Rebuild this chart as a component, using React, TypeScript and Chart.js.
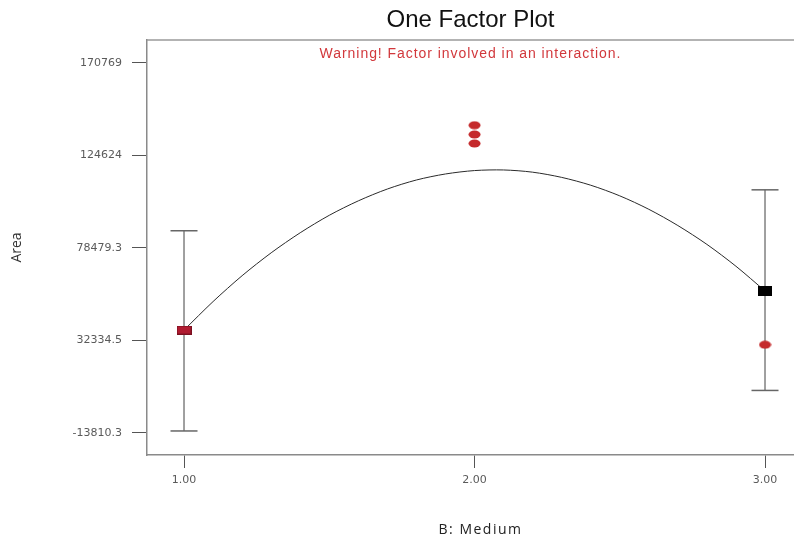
import React, { useEffect, useRef } from "react";
import { Chart, registerables } from "chart.js";

Chart.register(...registerables);

// ---- data ----
const factorLevels = [1, 2, 3];
const xTickLabels = ["1.00", "2.00", "3.00"];
const yTickValues = [-13810.3, 32334.5, 78479.3, 124624, 170769];
const yTickLabels = ["-13810.3", "32334.5", "78479.3", "124624", "170769"];

const curveX = [1.0, 1.1, 1.2, 1.3, 1.4, 1.5, 1.6, 1.7, 1.8, 1.9, 2.0, 2.1, 2.2, 2.3, 2.4, 2.5, 2.6, 2.7, 2.8, 2.9, 3.0];
const curveY = [37500, 51700, 64600, 76000, 86000, 94700, 101900, 107800, 112300, 115300, 117000, 117300, 116200, 113600, 109700, 104400, 97700, 89600, 80200, 69300, 57000];

const errorBarLevels = [1, 3];
const errorBarLow = [-12800, 7400];
const errorBarHigh = [87000, 107400];

const predictedLevels = [3];
const predictedValues = [57000];

const designSquareLevels = [1];
const designSquareValues = [37500];

const designPointLevels = [2, 2, 2, 3];
const designPointValues = [139600, 135000, 130500, 30200];

const titleText = "One Factor Plot";
const warningText = "Warning! Factor involved in an interaction.";
const xTitleText = "B: Medium";
const yTitleText = "Area";

const xMin = 0.8726;
const xMax = 3.0998;
const yMin = -24780;
const yMax = 182085;

function makeRect(w: number, h: number, fill: string, stroke: string) {
  const c = document.createElement("canvas");
  c.width = w;
  c.height = h;
  const ctx = c.getContext("2d")!;
  ctx.fillStyle = fill;
  ctx.fillRect(0, 0, w, h);
  ctx.strokeStyle = stroke;
  ctx.lineWidth = 1;
  ctx.strokeRect(0.5, 0.5, w - 1, h - 1);
  return c;
}

function makeEllipse(w: number, h: number, fill: string) {
  const c = document.createElement("canvas");
  c.width = w;
  c.height = h;
  const ctx = c.getContext("2d")!;
  ctx.fillStyle = fill;
  ctx.beginPath();
  ctx.ellipse(w / 2, h / 2, w / 2 - 0.5, h / 2 - 0.5, 0, 0, Math.PI * 2);
  ctx.fill();
  return c;
}

const textPlugin = {
  id: "frameAndTexts",
  afterDraw(chart: any) {
    const { ctx, chartArea } = chart;
    const cx = (chartArea.left + chartArea.right) / 2;
    ctx.save();
    // top frame line
    ctx.strokeStyle = "#9a9a9a";
    ctx.lineWidth = 1.5;
    ctx.beginPath();
    ctx.moveTo(chartArea.left, chartArea.top);
    ctx.lineTo(chartArea.right, chartArea.top);
    ctx.stroke();

    ctx.textAlign = "center";
    ctx.textBaseline = "middle";

    // main title
    ctx.fillStyle = "#111111";
    ctx.font = "24px 'Liberation Sans', Arial, sans-serif";
    ctx.fillText(titleText, cx, 20);

    // warning
    ctx.fillStyle = "#d2383c";
    ctx.font = "14px 'Liberation Sans', Arial, sans-serif";
    try {
      (ctx as any).letterSpacing = "0.95px";
    } catch (e) {}
    ctx.fillText(warningText, cx, chartArea.top + 14);

    // x axis title
    ctx.fillStyle = "#222222";
    ctx.font = "14px 'Open Sans', sans-serif";
    try {
      (ctx as any).letterSpacing = "1.5px";
    } catch (e) {}
    ctx.fillText(xTitleText, cx + 10, 530);
    ctx.restore();
  },
};

export default function App() {
  const ref = useRef<HTMLCanvasElement | null>(null);

  useEffect(() => {
    document.body.style.margin = "0";
    const canvas = ref.current!;
    const redRect = makeRect(15, 9, "#b01b30", "#7a1020");
    const blackRect = makeRect(14, 10, "#000000", "#000000");
    const redDot = makeEllipse(13, 9, "#c52a2c");

    const errorBarDatasets = errorBarLevels.map((lvl, i) => ({
      type: "line" as const,
      label: "ci" + i,
      data: [
        { x: lvl, y: errorBarLow[i] },
        { x: lvl, y: errorBarHigh[i] },
      ],
      borderColor: "#808080",
      borderWidth: 1.5,
      pointStyle: "line" as const,
      pointRadius: 13.5,
      pointBorderColor: "#666666",
      pointBorderWidth: 1.5,
      order: 5,
    }));

    const chart = new Chart(canvas, {
      type: "line",
      data: {
        datasets: [
          {
            label: "design points",
            data: designPointLevels.map((x, i) => ({ x, y: designPointValues[i] })),
            showLine: false,
            pointStyle: redDot as any,
            pointRadius: 6,
            order: 1,
          },
          {
            label: "design square",
            data: designSquareLevels.map((x, i) => ({ x, y: designSquareValues[i] })),
            showLine: false,
            pointStyle: redRect as any,
            pointRadius: 7,
            order: 1,
          },
          {
            label: "predicted",
            data: predictedLevels.map((x, i) => ({ x, y: predictedValues[i] })),
            showLine: false,
            pointStyle: blackRect as any,
            pointRadius: 7,
            order: 2,
          },
          {
            label: "fit",
            data: curveX.map((x, i) => ({ x, y: curveY[i] })),
            borderColor: "#2a2a2a",
            borderWidth: 1,
            pointRadius: 0,
            tension: 0.3,
            order: 3,
          },
          ...errorBarDatasets,
        ] as any,
      },
      plugins: [textPlugin],
      options: {
        animation: false,
        responsive: false,
        maintainAspectRatio: false,
        layout: { autoPadding: false, padding: { top: 40, left: 0, right: 0, bottom: 0 } },
        plugins: {
          legend: { display: false },
          tooltip: { enabled: false },
          title: { display: false },
        },
        scales: {
          x: {
            type: "linear",
            min: xMin,
            max: xMax,
            afterBuildTicks: (s: any) => {
              s.ticks = factorLevels.map((v) => ({ value: v }));
            },
            afterFit: (s: any) => {
              s.height = 83;
              s.paddingLeft = 0;
              s.paddingRight = 0;
            },
            ticks: {
              callback: (v: any) => {
                const i = factorLevels.indexOf(Number(v));
                return i >= 0 ? xTickLabels[i] : "";
              },
              font: { family: "'DejaVu Sans', sans-serif", size: 11 },
              color: "#5a5a5a",
              padding: 6,
              maxRotation: 0,
              autoSkip: false,
            },
            grid: { drawOnChartArea: false, tickLength: 13, color: "#555555", tickWidth: 1 },
            border: { color: "#8a8a8a", width: 1.5 },
            title: { display: false },
          },
          y: {
            type: "linear",
            min: yMin,
            max: yMax,
            afterBuildTicks: (s: any) => {
              s.ticks = yTickValues.map((v) => ({ value: v }));
            },
            afterFit: (s: any) => {
              s.width = 147;
              s.paddingTop = 0;
              s.paddingBottom = 0;
            },
            ticks: {
              callback: (v: any) => {
                const i = yTickValues.indexOf(Number(v));
                return i >= 0 ? yTickLabels[i] : "";
              },
              font: { family: "'DejaVu Sans', sans-serif", size: 11 },
              color: "#5a5a5a",
              padding: 10,
              autoSkip: false,
            },
            grid: { drawOnChartArea: false, tickLength: 15, color: "#555555", tickWidth: 1 },
            border: { color: "#8a8a8a", width: 1.5 },
            title: {
              display: true,
              text: yTitleText,
              color: "#333333",
              font: { family: "'Open Sans', sans-serif", size: 14 },
              padding: { top: 9, bottom: 0 },
            },
          },
        },
      } as any,
    });
    return () => chart.destroy();
  }, []);

  return (
    <div style={{ width: 794, height: 538, background: "#ffffff" }}>
      <canvas ref={ref} width={794} height={538} style={{ display: "block", width: 794, height: 538 }} />
    </div>
  );
}
